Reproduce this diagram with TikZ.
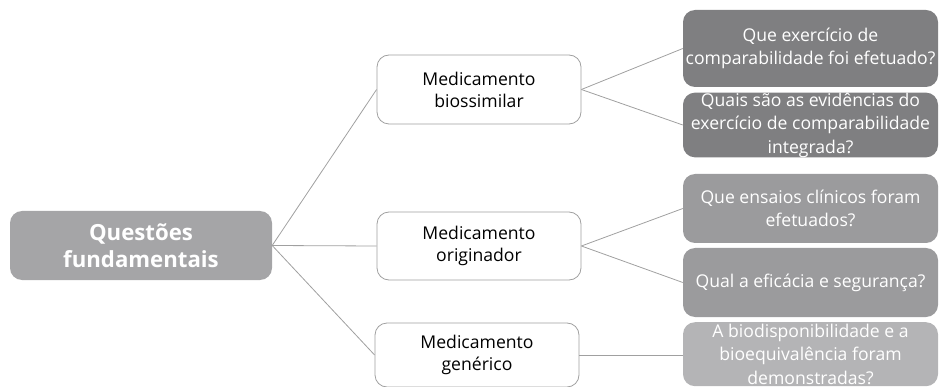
\documentclass[tikz,border=0pt]{standalone}
\usepackage{fontspec}
\setmainfont{Open Sans}
\definecolor{rootgray}{RGB}{165,165,167}
\definecolor{darkgray}{RGB}{127,127,129}
\definecolor{midgray}{RGB}{155,155,157}
\definecolor{lightgray}{RGB}{180,180,182}
\definecolor{linegray}{RGB}{160,160,160}
\tikzset{
  rootbox/.style={fill=rootgray,rounded corners=12pt,text=white,font=\fontsize{22.2}{27}\selectfont\bfseries,align=center,minimum width=262pt,minimum height=69pt,inner sep=0pt},
  medbox/.style={draw=linegray,line width=0.8pt,fill=white,rounded corners=12pt,font=\fontsize{17.6}{22}\selectfont,align=center,minimum width=204pt,inner sep=0pt},
  qbox/.style={rounded corners=12pt,text=white,font=\fontsize{17.6}{23.5}\selectfont,align=center,minimum width=255pt,inner sep=0pt},
  branch/.style={draw=linegray,line width=0.8pt}
}
\begin{document}
\begin{tikzpicture}[x=1pt,y=-1pt]
\useasboundingbox (0,0) rectangle (939,387);
% root
\node[rootbox] (root) at (141,245.5) {Questões\\fundamentais};
% medicines
\node[medbox,minimum height=69pt] (bio) at (479,89.5) {Medicamento\\biossimilar};
\node[medbox,minimum height=68pt] (orig) at (479,246) {Medicamento\\originador};
\node[medbox,minimum height=64pt] (gen) at (477,355) {Medicamento\\genérico};
% questions
\node[qbox,fill=darkgray,minimum height=77pt] (q1) at (810.5,48.5) {Que exercício de\\comparabilidade foi efetuado?};
\node[qbox,fill=darkgray,minimum height=64pt] (q2) at (810.5,125) {Quais são as evidências do\\exercício de comparabilidade\\integrada?};
\node[qbox,fill=midgray,minimum height=69pt] (q3) at (810.5,208.5) {Que ensaios clínicos foram\\efetuados?};
\node[qbox,fill=midgray,minimum height=69pt] (q4) at (810.5,282.5) {Qual a eficácia e segurança?};
\node[qbox,fill=lightgray,minimum height=64pt,anchor=north] (q5) at (810.5,322) {A biodisponibilidade e a\\bioequivalência foram\\demonstradas?};
% branches
\foreach \m in {bio,orig,gen} {
  \draw[branch] (root.east) -- (\m.west);
}
\draw[branch] (bio.east) -- (q1.west);
\draw[branch] (bio.east) -- (q2.west);
\draw[branch] (orig.east) -- (q3.west);
\draw[branch] (orig.east) -- (q4.west);
\draw[branch] (gen.east) -- (q5.west |- gen.east);
\end{tikzpicture}
\end{document}
